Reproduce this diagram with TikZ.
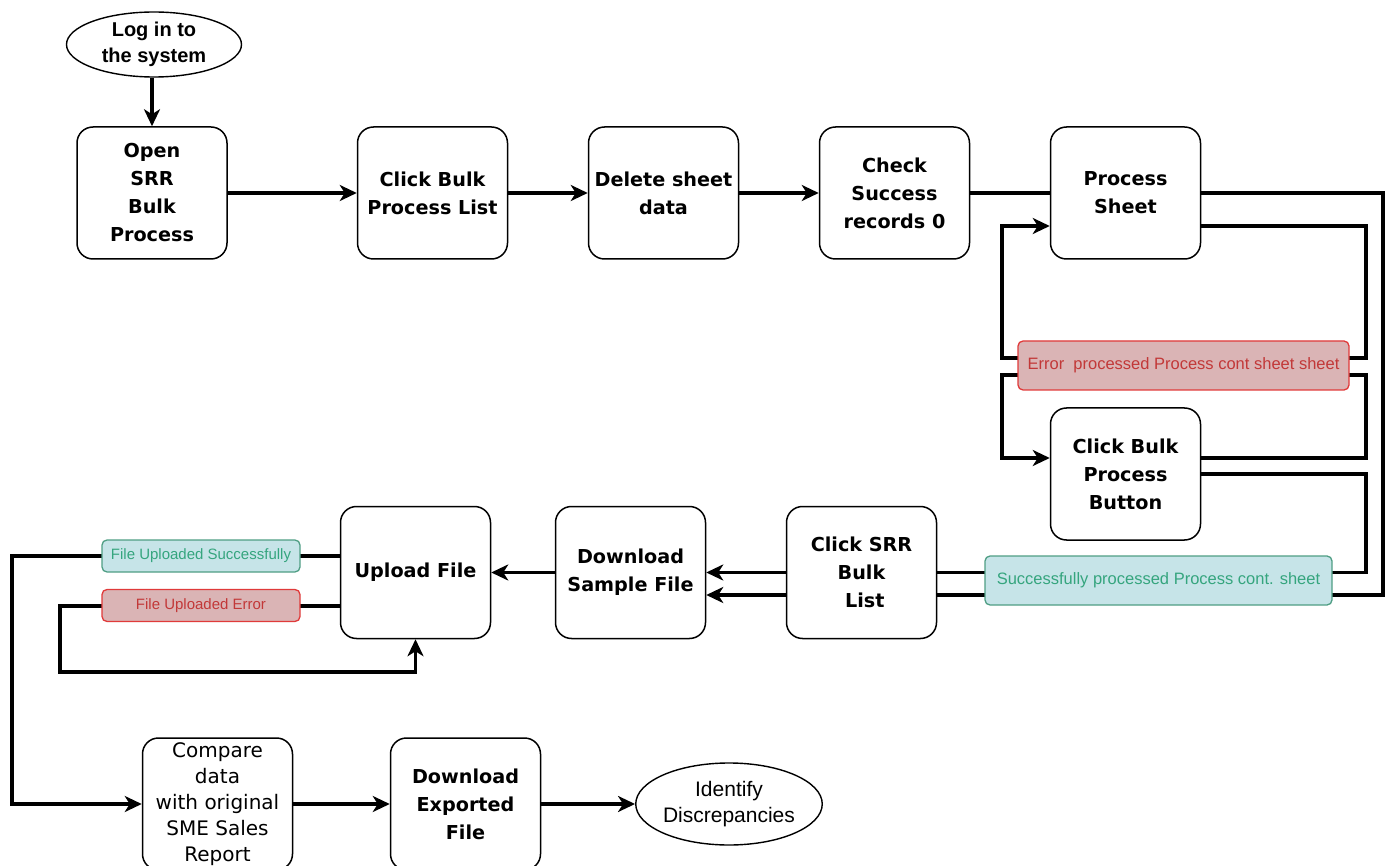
\documentclass[tikz,border=0pt]{standalone}
\usepackage{fontspec}
\setmainfont{DejaVu Sans}
\newfontfamily\lsans{Liberation Sans}
\usetikzlibrary{arrows.meta,calc,shapes.geometric}
\pgfdeclarelayer{bg}
\pgfsetlayers{bg,main}
\definecolor{okfill}{HTML}{C6E4E8}
\definecolor{okline}{HTML}{4F9E84}
\definecolor{oktext}{HTML}{35A57E}
\definecolor{errfill}{HTML}{DAB4B5}
\definecolor{errline}{HTML}{E03A3A}
\definecolor{errtext}{HTML}{C23838}
\tikzset{
  box/.style={draw, rounded corners=16pt, line width=1.5pt, fill=white,
    minimum width=150pt, minimum height=132pt, align=center, inner sep=0pt,
    font=\fontsize{19.2}{28}\selectfont\bfseries},
  oval/.style={draw, ellipse, line width=1.4pt, fill=white, align=center, inner sep=0pt},
  conn/.style={line width=3.4pt},
  arr/.style={conn, -{Stealth[length=17pt,width=16pt,inset=5pt]}},
  oklab/.style={draw=okline, fill=okfill, text=oktext, rounded corners=5pt,
    line width=1.3pt, inner sep=0pt},
  errlab/.style={draw=errline, fill=errfill, text=errtext, rounded corners=5pt,
    line width=1.3pt, inner sep=0pt},
  biglab/.style={minimum height=49pt, font=\lsans\fontsize{16.5}{20}\selectfont},
  smalllab/.style={minimum width=198pt, minimum height=32pt, font=\lsans\fontsize{15}{18}\selectfont}
}
\begin{document}
\begin{tikzpicture}[x=1pt,y=-1pt]
\useasboundingbox (0,0) rectangle (1390,866);
% nodes
\node[oval, minimum width=175pt, minimum height=65pt,
  font=\lsans\bfseries\fontsize{20}{26}\selectfont] (login) at (154,44.5) {Log in to\\the system};
\node[box] (open) at (152,193) {Open\\SRR\\Bulk\\Process};
\node[box] (cbpl) at (432.5,193) {Click Bulk\\Process List};
\node[box] (del) at (663.5,193) {Delete sheet\\data};
\node[box] (chk) at (894.5,193) {Check\\Success\\records 0};
\node[box] (ps) at (1125.5,193) {Process\\Sheet};
\node[errlab, biglab, minimum width=331pt] (err) at (1183.5,365.5) {Error\ \ processed Process cont sheet sheet};
\node[box] (btn) at (1125.5,474) {Click Bulk\\Process\\Button};
\node[oklab, biglab, minimum width=347pt] (ok) at (1158.5,580.5) {Successfully processed Process cont. sheet};
\node[box] (srr) at (861.5,572.5) {Click SRR\\Bulk\\\ List};
\node[box] (dsf) at (630.5,572.5) {Download\\Sample File};
\node[box] (up) at (415.5,572.5) {Upload File};
\node[oklab, smalllab] (fus) at (201,556) {File Uploaded Successfully};
\node[errlab, smalllab] (fue) at (201,605.5) {File Uploaded Error};
\node[box, font=\fontsize{20}{26}\selectfont] (cmp) at (217.5,804) {Compare\\data\\with original\\SME Sales\\Report};
\node[box] (dex) at (465.5,804) {Download\\Exported\\File};
\node[oval, minimum width=182pt, minimum height=82pt,
  font=\lsans\fontsize{21}{26}\selectfont] (idd) at (729,804) {Identify\\Discrepancies};
% connectors
\begin{pgfonlayer}{bg}
\draw[arr] (login.south -| open.north) -- (open.north);
\draw[arr] (open) -- (cbpl);
\draw[arr] (cbpl) -- (del);
\draw[arr] (del) -- (chk);
\draw[conn] (chk.east) -- (ps.west);
\draw[arr] (ps.east) -- (1383,193) -- (1383,595) -- ($(dsf.east)+(0,22.5)$);
\draw[arr] ($(ps.east)+(0,33)$) -- (1366,226) -- (1366,358) -- (1002,358) -- (1002,226) -- ($(ps.west)+(0,33)$);
\draw[arr] ($(btn.east)+(0,-16)$) -- (1366,458) -- (1366,375) -- (1002,375) -- (1002,458) -- ($(btn.west)+(0,-16)$);
\draw[arr] (btn.east) -- (1366,474) -- (1366,572.5) -- (dsf.east);
\draw[arr] (dsf.west) -- (up.east);
\draw[arr] ($(up.west)+(0,-16.5)$) -- (12,556) -- (12,804) -- (cmp.west);
\draw[arr] ($(up.west)+(0,33.5)$) -- (60,606) -- (60,672) -- (up.south |- 0,672) -- (up.south);
\draw[arr] (cmp) -- (dex);
\draw[arr] (dex) -- (idd);
\end{pgfonlayer}
\end{tikzpicture}
\end{document}
